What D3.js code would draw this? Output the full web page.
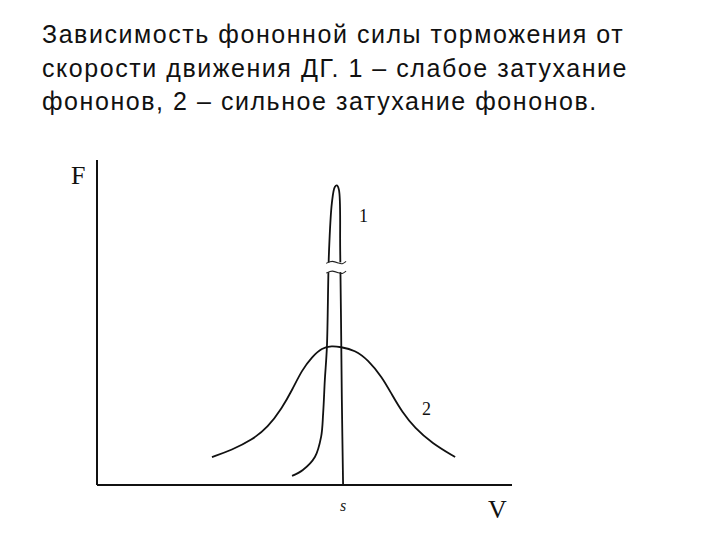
<!DOCTYPE html>
<html>
<head>
<meta charset="utf-8">
<script src="https://cdn.jsdelivr.net/npm/d3@7"></script>
<style>
  body { margin: 0; background: #fff; }
</style>
</head>
<body>
<div id="chart"></div>
<script>
// title lines
var titleLines = [
  "Зависимость фононной силы торможения от",
  "скорости движения ДГ. 1 – слабое затухание",
  "фононов, 2 – сильное затухание фононов."
];

// curve 1: weak damping (sharp peak just below s, vertical drop at s)
var curve1V = [4.70, 4.96, 5.25, 5.40, 5.45, 5.49, 5.54, 5.59, 5.66, 5.73, 5.78, 5.83, 5.86, 5.88, 5.90, 5.93];
var curve1F = [0.28, 0.46, 0.86, 1.48, 2.22, 3.23, 4.25, 7.17, 8.68, 9.17, 9.22, 9.08, 7.23, 5.08, 2.62, 0.00];

// curve 2: strong damping (broad bell)
var curve2V = [2.77, 3.25, 3.73, 4.12, 4.46, 4.70, 4.94, 5.18, 5.42, 5.66, 5.86, 6.22, 6.53, 6.87, 7.11, 7.35, 7.66, 8.07, 8.63];
var curve2F = [0.86, 1.08, 1.38, 1.78, 2.37, 2.92, 3.54, 3.94, 4.22, 4.28, 4.25, 4.15, 3.85, 3.32, 2.77, 2.25, 1.75, 1.29, 0.86];

var sValue = 5.93;
var breakF = [6.85, 6.55];   // gap in curve 1

var width = 720, height = 540;

var svg = d3.select("#chart").append("svg")
  .attr("width", width)
  .attr("height", height);

var x = d3.scaleLinear().domain([0, 10]).range([97, 512]);
var y = d3.scaleLinear().domain([0, 10]).range([485, 160]);

// title
svg.append("g").selectAll("text")
  .data(titleLines)
  .enter().append("text")
  .attr("x", 42)
  .attr("y", (d, i) => 43 + i * 33.5)
  .attr("font-family", "Liberation Sans, Arial, sans-serif")
  .attr("font-size", 25)
  .attr("letter-spacing", 1.55)
  .attr("fill", "#111")
  .text(d => d);

// axes (plain lines, no ticks)
svg.append("line")
  .attr("x1", x(0)).attr("x2", x(0))
  .attr("y1", y(0)).attr("y2", y(10))
  .attr("stroke", "#111").attr("stroke-width", 2);
svg.append("line")
  .attr("x1", x(0)).attr("x2", x(10))
  .attr("y1", y(0)).attr("y2", y(0))
  .attr("stroke", "#111").attr("stroke-width", 2);

var line1 = d3.line()
  .x(d => x(d[0]))
  .y(d => y(d[1]))
  .curve(d3.curveCatmullRom.alpha(0.5));

var line2 = d3.line()
  .x(d => x(d[0]))
  .y(d => y(d[1]))
  .curve(d3.curveBasis);

var pts1 = curve1V.map((v, i) => [v, curve1F[i]]);
var pts2 = curve2V.map((v, i) => [v, curve2F[i]]);

svg.append("path")
  .attr("d", line2(pts2))
  .attr("fill", "none")
  .attr("stroke", "#111")
  .attr("stroke-width", 1.8);

svg.append("path")
  .attr("d", line1(pts1))
  .attr("fill", "none")
  .attr("stroke", "#111")
  .attr("stroke-width", 1.8);

// break in curve 1
var bx0 = x(5.45), bx1 = x(6.05);
svg.append("rect")
  .attr("x", bx0)
  .attr("y", y(breakF[0]))
  .attr("width", bx1 - bx0)
  .attr("height", y(breakF[1]) - y(breakF[0]))
  .attr("fill", "#fff");

var wave = d3.line().curve(d3.curveBasis);
breakF.forEach(function(f) {
  var yy = y(f);
  svg.append("path")
    .attr("d", wave([[bx0 + 3, yy + 1], [bx0 + 9, yy - 2], [bx0 + 16, yy + 1], [bx1 - 6, yy + 2], [bx1 - 2, yy - 1]]))
    .attr("fill", "none")
    .attr("stroke", "#222")
    .attr("stroke-width", 1.1);
});

// labels
var serif = "Liberation Serif, Times New Roman, serif";
svg.append("text")
  .attr("x", 71).attr("y", 184)
  .attr("font-family", serif).attr("font-size", 26)
  .attr("fill", "#111")
  .text("F");
svg.append("text")
  .attr("x", 488).attr("y", 518)
  .attr("font-family", serif).attr("font-size", 26)
  .attr("fill", "#111")
  .text("V");
svg.append("text")
  .attr("x", x(sValue)).attr("y", 511)
  .attr("text-anchor", "middle")
  .attr("font-family", serif).attr("font-style", "italic").attr("font-size", 16)
  .attr("fill", "#222")
  .text("s");
svg.append("text")
  .attr("x", 359).attr("y", 222)
  .attr("font-family", serif).attr("font-size", 18)
  .attr("fill", "#111")
  .text("1");
svg.append("text")
  .attr("x", 422).attr("y", 415)
  .attr("font-family", serif).attr("font-size", 18)
  .attr("fill", "#111")
  .text("2");
</script>
</body>
</html>
